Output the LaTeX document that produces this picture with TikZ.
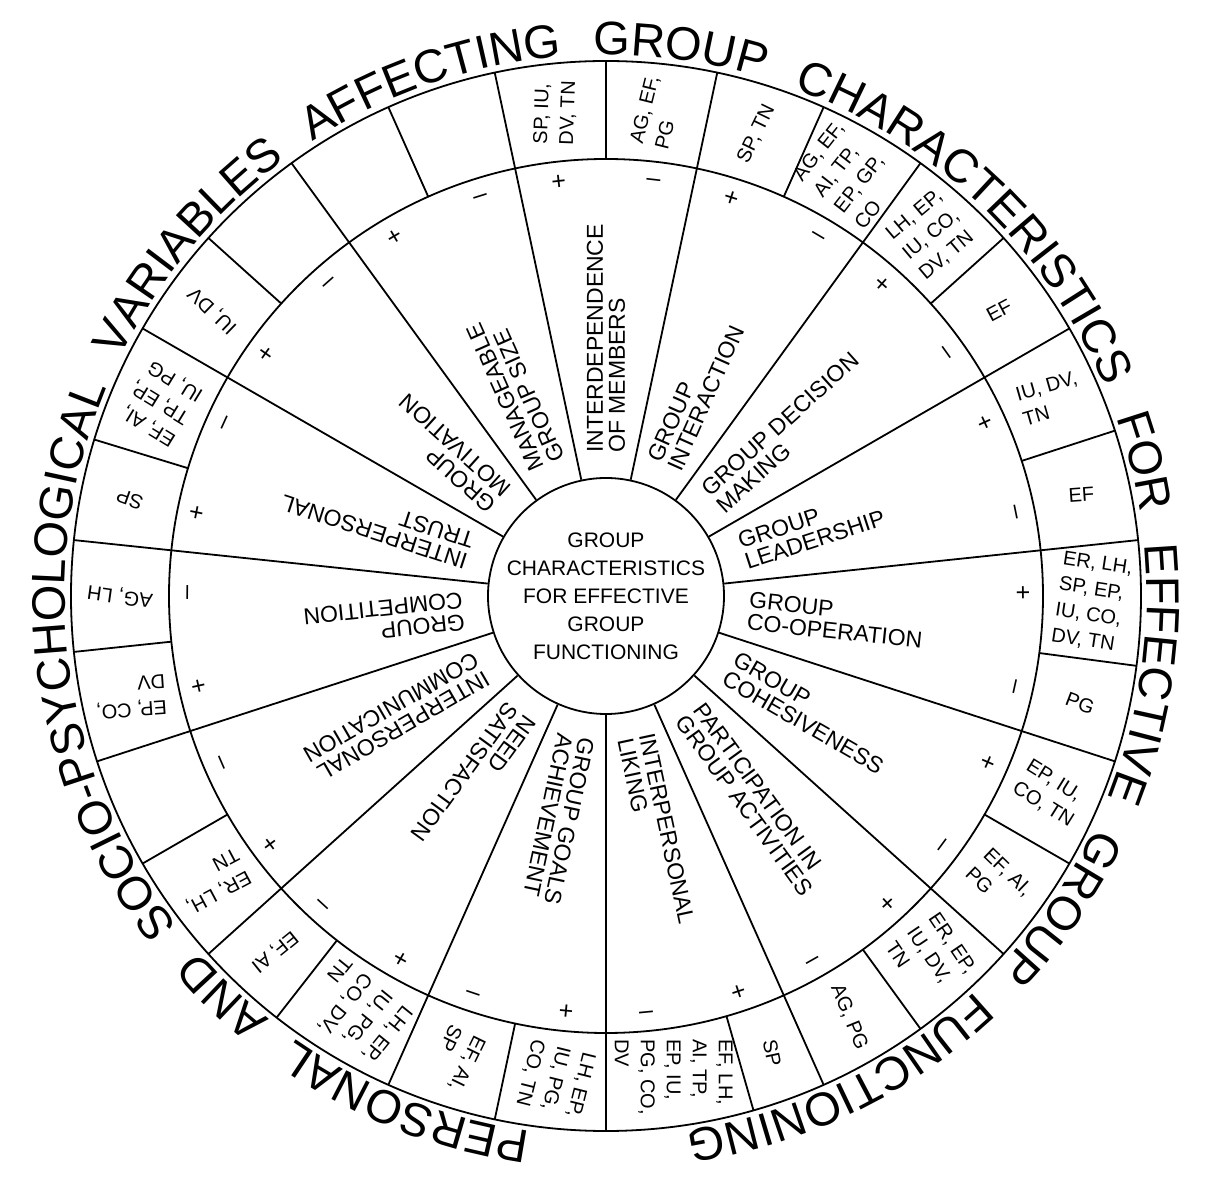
\documentclass[tikz,border=0pt]{standalone}
\usepackage{fontspec}
\setmainfont{Liberation Sans}
\usetikzlibrary{decorations.text}

\begin{document}
\begin{tikzpicture}[
  x=1pt, y=1pt,
  wheel/.style={line width=1.8pt},
  hubcircle/.style={draw, circle, line width=1.8pt, minimum size=236pt, inner sep=0pt, align=center, font=\fontsize{21}{28}\selectfont},
  sectorlabel/.style={anchor=west, align=left, inner sep=0pt, font=\fontsize{23}{22}\selectfont},
  cellbox/.style={align=left, inner sep=0pt, font=\fontsize{20}{26}\selectfont},
  signmark/.style={inner sep=0pt, font=\fontsize{25}{25}\selectfont},
]

  \useasboundingbox (-606,-586) rectangle (606,596);

  % Centre
  \node (hub) [hubcircle] at (0,0) {GROUP\\CHARACTERISTICS\\FOR EFFECTIVE\\GROUP\\FUNCTIONING};

  % Rings
  \draw[wheel] (0,0) circle[radius=437pt];
  \draw[wheel] (0,0) circle[radius=535pt];

  % Main spokes (hub to outer ring)
  \foreach \a in {6,30,...,342} {
    \draw[wheel] (hub.\a) -- (\a:535pt);
  }

  % Spokes splitting + and - cells
  \foreach \a in {90,66,42,18,-7.5,-30,-54,-74,258,232,210,186,163,138,114} {
    \draw[wheel] (\a:437pt) -- (\a:535pt);
  }

  % Group characteristics
  \foreach \c/\txt [count=\i] in {
    90/{INTERDEPENDENCE\\OF MEMBERS},
    66/{GROUP\\INTERACTION},
    42/{GROUP DECISION\\MAKING},
    18/{GROUP\\LEADERSHIP},
    -6/{GROUP\\CO-OPERATION},
    -30/{GROUP\\COHESIVENESS},
    -54/{PARTICIPATION IN\\GROUP ACTIVITIES},
    -78/{INTERPERSONAL\\LIKING},
    258/{GROUP GOALS\\ACHIEVEMENT},
    234/{NEED\\SATISFACTION},
    210/{INTERPERSONAL\\COMMUNICATION},
    186/{GROUP\\COMPETITION},
    162/{INTERPERSONAL\\TRUST},
    138/{GROUP\\MOTIVATION},
    114/{MANAGEABLE\\GROUP SIZE}} {
    \node (sector\i) [sectorlabel, rotate=\c] at (\c:143pt) {\txt};
  }

  % + and - signs
  \foreach \c [count=\i] in {90,66,42,18,-6,-30,-54,-78,258,234,210,186,162,138,114} {
    \node (plus\i) [signmark, rotate=\c-83.5] at ({\c+6.5}:416pt) {+};
    \node (minus\i) [signmark, rotate=\c-96.5] at ({\c-6.5}:416pt) {--};
  }

  % Variables in the outer cells
  \foreach \a/\txt [count=\i] in {
    96/{SP, IU,\\DV, TN},
    84/{AG, EF,\\PG},
    72/{SP, TN},
    60/{AG, EF,\\AI, TP,\\EP, GP,\\CO},
    48/{LH, EP,\\IU, CO,\\DV, TN},
    36/{EF},
    24/{IU, DV,\\TN},
    12/{EF},
    -0.75/{ER, LH,\\SP, EP,\\IU, CO,\\DV, TN},
    -12.75/{PG},
    -24/{EP, IU,\\CO, TN},
    -36/{EF, AI,\\PG},
    -48/{ER, EP,\\IU, DV,\\TN},
    -60/{AG, PG},
    -70/{SP},
    -82/{EF, LH,\\AI, TP,\\EP, IU,\\PG, CO,\\DV},
    264/{LH, EP,\\IU, PG,\\CO, TN},
    252/{EF, AI,\\SP},
    239/{LH, EP,\\IU, PG,\\CO, DV,\\TN},
    227/{EF, AI},
    216/{ER, LH,\\TN},
    192/{EP, CO,\\DV},
    180/{AG, LH},
    168.5/{SP},
    156.5/{EF, AI,\\TP, EP,\\IU, PG},
    144/{IU, DV}} {
    \node (cell\i) [cellbox, rotate=\a-8] at (\a:486pt) {\txt};
  }

  % Title round the wheel
  \path[decorate, decoration={text along path,
      text={|\fontsize{47}{47}\selectfont|PERSONAL AND SOCIO-PSYCHOLOGICAL VARIABLES AFFECTING GROUP CHARACTERISTICS FOR EFFECTIVE GROUP FUNCTIONING},
      text align={fit to path stretching spaces}}]
    (262:541pt) arc[start angle=262, end angle=-81.5, radius=541pt];

\end{tikzpicture}
\end{document}
